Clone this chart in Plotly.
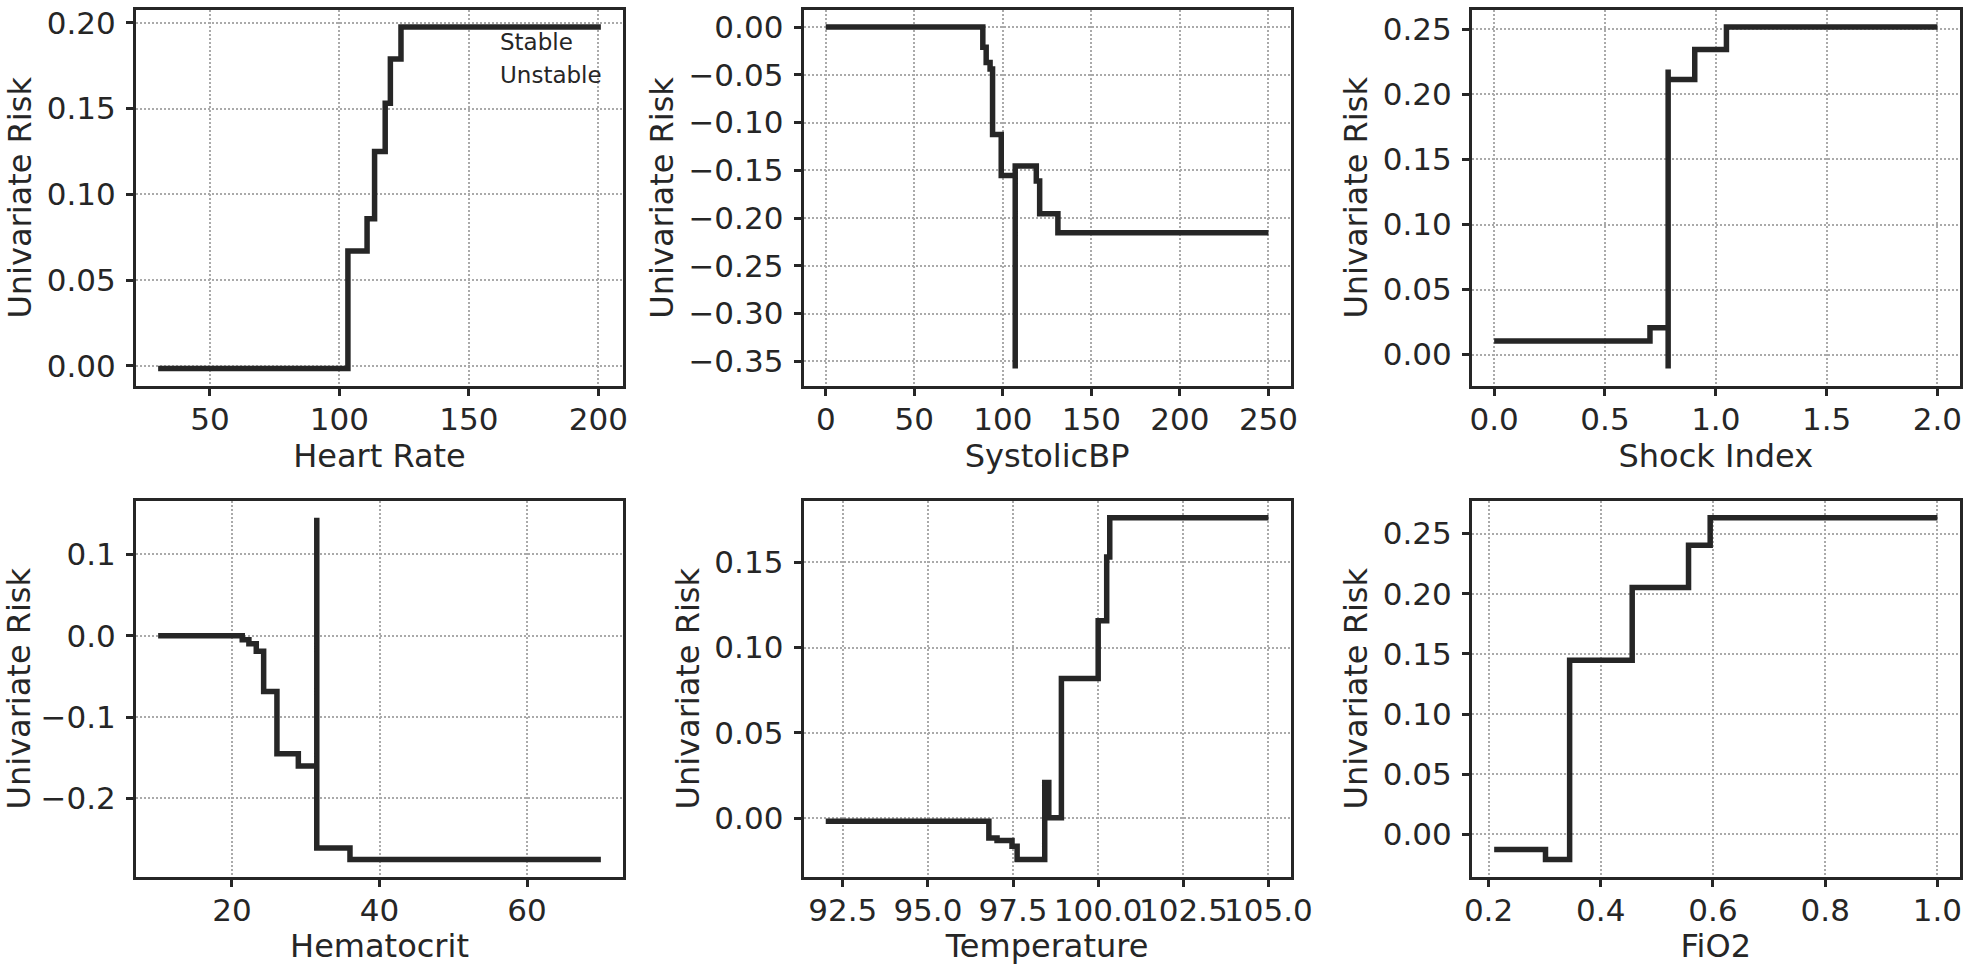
import plotly.graph_objects as go
from plotly.subplots import make_subplots

# step curves (x = breakpoint, y = risk from that x on)
hr_x = [30, 103.3, 110.7, 113.6, 117.7, 119.7, 123.8, 201]
hr_y = [-0.0016, 0.0669, 0.0858, 0.1249, 0.1531, 0.1789, 0.1975, 0.1975]

sbp_x = [0, 88.7, 90.6, 92.8, 94.2, 99.1, 107.0, 107.0, 118.9, 120.8, 131.1, 250]
sbp_y = [0.0, -0.021, -0.037, -0.044, -0.1124, -0.1553, -0.3576, -0.1455,
         -0.1612, -0.1954, -0.2153, -0.2153]

si_x = [0.0, 0.703, 0.785, 0.785, 0.785, 0.905, 1.048, 2.0]
si_y = [0.0105, 0.0206, -0.0108, 0.2192, 0.2115, 0.2346, 0.2518, 0.2518]

hct_x = [10, 21.4, 22.3, 23.3, 24.3, 26.1, 29.0, 31.5, 31.5, 36.0, 70]
hct_y = [0.0, -0.005, -0.010, -0.019, -0.0686, -0.1451, -0.1603, 0.1451,
         -0.261, -0.2754, -0.2754]

temp_x = [92.0, 96.79, 97.03, 97.47, 97.62, 98.43, 98.55, 98.92, 100.0,
          100.25, 100.34, 105.0]
temp_y = [-0.0016, -0.0114, -0.0129, -0.0163, -0.0241, 0.021, 0.0004,
          0.0818, 0.1157, 0.153, 0.1759, 0.1759]

fio2_x = [0.21, 0.3015, 0.3445, 0.456, 0.5564, 0.595, 1.0]
fio2_y = [-0.0125, -0.0209, 0.1448, 0.2052, 0.2403, 0.2631, 0.2631]

# tick values per panel
hr_xticks = [50, 100, 150, 200]
hr_yticks = [0.00, 0.05, 0.10, 0.15, 0.20]
sbp_xticks = [0, 50, 100, 150, 200, 250]
sbp_yticks = [0.00, -0.05, -0.10, -0.15, -0.20, -0.25, -0.30, -0.35]
si_xticks = [0.0, 0.5, 1.0, 1.5, 2.0]
si_yticks = [0.00, 0.05, 0.10, 0.15, 0.20, 0.25]
hct_xticks = [20, 40, 60]
hct_yticks = [-0.2, -0.1, 0.0, 0.1]
temp_xticks = [92.5, 95.0, 97.5, 100.0, 102.5, 105.0]
temp_yticks = [0.00, 0.05, 0.10, 0.15]
fio2_xticks = [0.2, 0.4, 0.6, 0.8, 1.0]
fio2_yticks = [0.00, 0.05, 0.10, 0.15, 0.20, 0.25]

legend_labels = ["Stable", "Unstable"]

panels = [
    ("Heart Rate", hr_x, hr_y, hr_xticks, "d", hr_yticks, ".2f"),
    ("SystolicBP", sbp_x, sbp_y, sbp_xticks, "d", sbp_yticks, ".2f"),
    ("Shock Index", si_x, si_y, si_xticks, ".1f", si_yticks, ".2f"),
    ("Hematocrit", hct_x, hct_y, hct_xticks, "d", hct_yticks, ".1f"),
    ("Temperature", temp_x, temp_y, temp_xticks, ".1f", temp_yticks, ".2f"),
    ("FiO2", fio2_x, fio2_y, fio2_xticks, ".1f", fio2_yticks, ".2f"),
]

W, H = 1968, 965
col_dom = [[136 / W, 623 / W], [803.6 / W, 1290.6 / W], [1472 / W, 1959.6 / W]]
row_dom = [[1 - 385.7 / H, 1 - 10 / H], [1 - 876.7 / H, 1 - 500.7 / H]]

INK = "#262626"
FONT = "DejaVu Sans"

fig = make_subplots(rows=2, cols=3)

for i, (name, xs, ys, xt, xf, yt, yf) in enumerate(panels):
    r, c = i // 3 + 1, i % 3 + 1
    fig.add_trace(go.Scatter(
        x=xs, y=ys, mode="lines", line_shape="hv",
        line={"color": INK, "width": 5.5}, showlegend=False
    ), row=r, col=c)

    xpad = 0.05 * (max(xs) - min(xs))
    ypad = 0.05 * (max(ys) - min(ys))
    common = dict(
        showline=True, linecolor=INK, linewidth=3, mirror=True,
        ticks="outside", ticklen=7, tickwidth=2.5, tickcolor=INK,
        showgrid=True, gridcolor="#aaaaaa", gridwidth=2, griddash="2px,2px",
        zeroline=False, tickangle=0, automargin=False,
        tickfont={"family": FONT, "size": 31, "color": INK},
    )
    fig.update_xaxes(
        range=[min(xs) - xpad, max(xs) + xpad], domain=col_dom[c - 1],
        tickvals=xt, tickformat=xf, ticklabelstandoff=-3,
        title={"text": name, "font": {"family": FONT, "size": 32, "color": INK},
               "standoff": 8},
        row=r, col=c, **common
    )
    fig.update_yaxes(
        range=[min(ys) - ypad, max(ys) + ypad], domain=row_dom[r - 1],
        tickvals=yt, tickformat=yf, ticklabelstandoff=4,
        title={"text": "Univariate Risk",
               "font": {"family": FONT, "size": 32, "color": INK},
               "standoff": 6},
        row=r, col=c, **common
    )

for k, lab in enumerate(legend_labels):
    fig.add_annotation(
        text=lab, xref="paper", yref="paper",
        x=498 / W, y=1 - (42 + 33 * k) / H,
        xanchor="left", yanchor="middle", showarrow=False,
        font={"family": FONT, "size": 23, "color": INK},
    )

fig.update_layout(
    width=W, height=H,
    margin={"l": 0, "r": 0, "t": 0, "b": 0},
    paper_bgcolor="white", plot_bgcolor="white",
    font={"family": FONT, "color": INK},
)

# drop the default page margin so the figure fills the window exactly
fig.write_html("out.html", config={"displayModeBar": False},
               post_script="document.body.style.margin = '0';")
